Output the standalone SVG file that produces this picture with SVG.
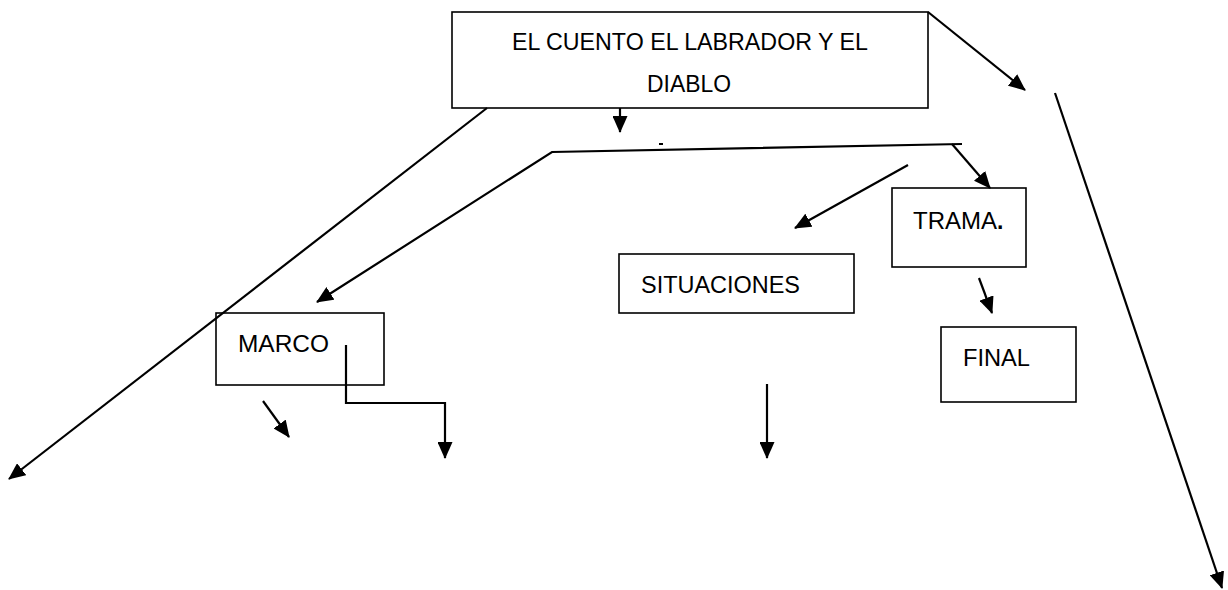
<svg xmlns="http://www.w3.org/2000/svg" width="1228" height="590" viewBox="0 0 1228 590">
  <defs>
    <marker id="ah" markerUnits="userSpaceOnUse" markerWidth="17" markerHeight="15" refX="16" refY="7.5" orient="auto">
      <path d="M0,0 L17,7.5 L0,15 z" fill="#000"/>
    </marker>
    <style>
      .box { fill: #fff; stroke: #000; stroke-width: 1.6; }
      .lbl { font-family: "Liberation Sans", Arial, sans-serif; font-size: 24px; fill: #000; }
      .con { fill: none; stroke: #000; stroke-width: 2; }
      .arr { fill: none; stroke: #000; stroke-width: 2.2; marker-end: url(#ah); }
    </style>
  </defs>
  <rect width="1228" height="590" fill="#fff"/>

  <g id="node-cuento">
    <rect class="box" x="452" y="12" width="476" height="96"/>
    <text class="lbl" x="512" y="50" textLength="356" lengthAdjust="spacingAndGlyphs">EL CUENTO EL LABRADOR Y EL</text>
    <text class="lbl" x="647" y="92" textLength="84" lengthAdjust="spacingAndGlyphs">DIABLO</text>
  </g>

  <g id="node-marco">
    <rect class="box" x="216" y="313" width="168" height="72"/>
    <text class="lbl" x="238" y="352" textLength="91" lengthAdjust="spacingAndGlyphs">MARCO</text>
  </g>

  <g id="node-situaciones">
    <rect class="box" x="619" y="254" width="235" height="59"/>
    <text class="lbl" x="641" y="293" textLength="159" lengthAdjust="spacingAndGlyphs">SITUACIONES</text>
  </g>

  <g id="node-trama">
    <rect class="box" x="892" y="188" width="134" height="79"/>
    <text class="lbl" x="913" y="229" font-size="18">TRAMA<tspan font-size="23" font-weight="bold">.</tspan></text>
  </g>

  <g id="node-final">
    <rect class="box" x="941" y="327" width="135" height="75"/>
    <text class="lbl" x="963" y="366" textLength="67" lengthAdjust="spacingAndGlyphs">FINAL</text>
  </g>

  <g id="connectors">
    <line class="arr" x1="487" y1="108" x2="9" y2="479"/>
    <line class="arr" x1="928" y1="12" x2="1025" y2="90"/>
    <line class="arr" x1="1055" y1="93" x2="1222" y2="588"/>
    <line class="arr" x1="620" y1="108" x2="620" y2="132"/>
    <path class="arr" d="M962,144 L552,152 L317,302"/>
    <line class="con" x1="659" y1="144" x2="663" y2="144"/>
    <line class="arr" x1="952" y1="144" x2="990" y2="188"/>
    <line class="arr" x1="908" y1="165" x2="795" y2="228"/>
    <line class="arr" x1="979" y1="278" x2="992" y2="313"/>
    <path class="arr" d="M346,345 L346,403 L445,403 L445,458"/>
    <line class="arr" x1="263" y1="401" x2="289" y2="437"/>
    <line class="arr" x1="767" y1="384" x2="767" y2="458"/>
  </g>
</svg>
